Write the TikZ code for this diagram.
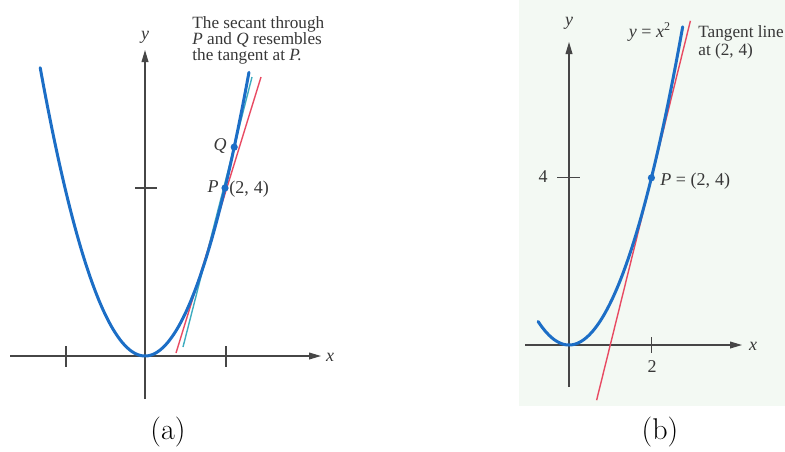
\documentclass[tikz,border=0pt]{standalone}
\usepackage{fontspec}
\newfontfamily\figfont{Liberation Serif}
\usetikzlibrary{arrows.meta, calc}
\definecolor{CB}{RGB}{28,110,198}
\definecolor{CR}{RGB}{232,74,98}
\definecolor{CT}{RGB}{62,172,192}
\definecolor{AX}{RGB}{70,70,70}
\definecolor{DG}{RGB}{55,55,55}
\definecolor{BG}{RGB}{243,249,243}

\begin{document}
\begin{tikzpicture}[x=0.5pt, y=-0.5pt,
  axis/.style={draw=AX, line width=0.6pt, -{Triangle[length=6pt,width=3.4pt]}},
  tick/.style={draw=AX, line width=0.6pt},
  curve/.style={draw=CB, line width=1.5pt, line cap=round},
  tanline/.style={draw=CR, line width=0.7pt},
  secline/.style={draw=CT, line width=0.7pt},
  dot/.style={circle, fill=CB, inner sep=0pt, minimum size=3.6pt},
  lbl/.style={font=\figfont\fontsize{9}{10}\selectfont, text=DG, inner sep=1pt},
  note/.style={font=\figfont\fontsize{8.6}{8}\selectfont, text=DG, inner sep=0pt, align=left},
  subcap/.style={font=\fontsize{15}{18}\selectfont, inner sep=0pt}
]
\useasboundingbox (0,0) rectangle (785,451);

% ---------------- panel (a) ----------------
\coordinate (ax0) at (10,356);
\coordinate (ax1) at (321,356);
\coordinate (ay0) at (145,399);
\coordinate (ay1) at (145,50);
\draw[axis] (ax0) -- (ax1);
\draw[axis] (ay0) -- (ay1);
\node[lbl, font=\figfont\itshape\fontsize{9}{10}\selectfont] (xa) at (330,357) {x};
\node[lbl, font=\figfont\itshape\fontsize{9}{10}\selectfont] (ya) at (145,37) {y};

% ticks
\draw[tick] (66,346) -- (66,367);
\draw[tick] (226,346) -- (226,367);
\draw[tick] (135,188) -- (157,188);

% secant and tangent
\coordinate (sb) at (183,347);
\coordinate (st) at (252,77);
\coordinate (tb) at (176,353);
\coordinate (tt) at (261,77);
\draw[secline] (sb) -- (st);
\draw[tanline] (tb) -- (tt);

% y = x^2
\draw[curve] plot[domain=-2.62:2.6, samples=90, smooth] ({145+40*\x},{356-42*\x*\x});

\node[dot] (P) at (225,188) {};
\node[dot] (Q) at (234.2,147.1) {};
\node[lbl, anchor=east, font=\figfont\itshape\fontsize{9}{10}\selectfont] (Pa) at (221,187) {P};
\node[lbl, anchor=east, font=\figfont\itshape\fontsize{9}{10}\selectfont] (Qa) at (229,146) {Q};
\node[lbl, anchor=west] (Pxy) at (227,189) {(2,\;4)};

\node[note, anchor=north west] (secnote) at (192,16)
  {The secant through\\ \textit{P} and \textit{Q} resembles\\ the tangent at \textit{P.}};

\node[subcap] (capa) at (168,432) {(a)};

% ---------------- panel (b) ----------------
\fill[BG] (519,0) rectangle (785,406);

\coordinate (bx0) at (525,345);
\coordinate (bx1) at (742,345);
\coordinate (by0) at (569,387);
\coordinate (by1) at (569,42);
\draw[axis] (bx0) -- (bx1);
\draw[axis] (by0) -- (by1);
\node[lbl, font=\figfont\itshape\fontsize{9}{10}\selectfont] (xb) at (753,346) {x};
\node[lbl, font=\figfont\itshape\fontsize{9}{10}\selectfont] (yb) at (569,23) {y};

% ticks
\draw[tick] (651.4,337) -- (651.4,353);
\draw[tick] (557,177.8) -- (580,177.8);
\node[lbl] (two) at (652,367) {2};
\node[lbl] (four) at (543,177) {4};

% tangent y = 4x - 4
\coordinate (bt0) at (596.6,400.2);
\coordinate (bt1) at (690.4,20.8);
\draw[tanline] (bt0) -- (bt1);

% y = x^2
\draw[curve] plot[domain=-0.75:2.76, samples=80, smooth] ({569+41.2*\x},{345-41.8*\x*\x});

\node[dot] (Pb) at (651.4,177.8) {};
\node[lbl, anchor=west] (Pbl) at (658,181) {\textit{P} = (2,\;4)};
\node[lbl] (fx) at (650,32) {\textit{y} = \textit{x}\textsuperscript{2}};
\node[note, anchor=north west, font=\figfont\fontsize{8.6}{9}\selectfont] (tannote) at (698,25)
  {Tangent line\\ at (2,\;4)};

\node[subcap] (capb) at (660,432) {(b)};
\end{tikzpicture}
\end{document}
